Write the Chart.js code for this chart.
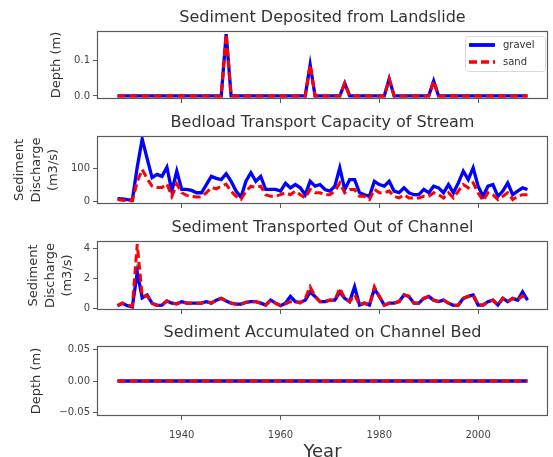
<!DOCTYPE html>
<html>
<head>
<meta charset="utf-8">
<script src="https://cdn.jsdelivr.net/npm/chart.js@4.4.1/dist/chart.umd.min.js"></script>
<style>
  body { margin: 0; background: #fff; width: 553px; height: 457px; overflow: hidden; position: relative; }
  canvas { position: absolute; left: 0; }
</style>
</head>
<body>
<canvas id="p1" width="553" height="103" style="top:5px"></canvas>
<canvas id="p2" width="553" height="103" style="top:110px"></canvas>
<canvas id="p3" width="553" height="104" style="top:215px"></canvas>
<canvas id="p4" width="553" height="138" style="top:320px"></canvas>
<script>
// years on the x axis
const years = [
  1927, 1928, 1929, 1930, 1931, 1932, 1933, 1934, 1935, 1936,
  1937, 1938, 1939, 1940, 1941, 1942, 1943, 1944, 1945, 1946,
  1947, 1948, 1949, 1950, 1951, 1952, 1953, 1954, 1955, 1956,
  1957, 1958, 1959, 1960, 1961, 1962, 1963, 1964, 1965, 1966,
  1967, 1968, 1969, 1970, 1971, 1972, 1973, 1974, 1975, 1976,
  1977, 1978, 1979, 1980, 1981, 1982, 1983, 1984, 1985, 1986,
  1987, 1988, 1989, 1990, 1991, 1992, 1993, 1994, 1995, 1996,
  1997, 1998, 1999, 2000, 2001, 2002, 2003, 2004, 2005, 2006,
  2007, 2008, 2009, 2010
];

// Sediment deposited from landslide (m)
const depositGravel = [
  0, 0, 0, 0, 0, 0, 0, 0, 0, 0,
  0, 0, 0, 0, 0, 0, 0, 0, 0, 0,
  0, 0, 0.175, 0, 0, 0, 0, 0, 0, 0,
  0, 0, 0, 0, 0, 0, 0, 0, 0, 0.088,
  0, 0, 0, 0, 0, 0, 0.036, 0, 0, 0,
  0, 0, 0, 0, 0, 0.048, 0, 0, 0, 0,
  0, 0, 0, 0, 0.042, 0, 0, 0, 0, 0,
  0, 0, 0, 0, 0, 0, 0, 0, 0, 0,
  0, 0, 0, 0
];
const depositSand = [
  0, 0, 0, 0, 0, 0, 0, 0, 0, 0,
  0, 0, 0, 0, 0, 0, 0, 0, 0, 0,
  0, 0, 0.175, 0, 0, 0, 0, 0, 0, 0,
  0, 0, 0, 0, 0, 0, 0, 0, 0, 0.088,
  0, 0, 0, 0, 0, 0, 0.036, 0, 0, 0,
  0, 0, 0, 0, 0, 0.048, 0, 0, 0, 0,
  0, 0, 0, 0, 0.042, 0, 0, 0, 0, 0,
  0, 0, 0, 0, 0, 0, 0, 0, 0, 0,
  0, 0, 0, 0
];

// Bedload transport capacity (m3/s)
const capacityGravel = [
  8, 7, 5, 4, 105, 190, 130, 72, 82, 76,
  104, 31, 92, 36, 36, 33, 26, 26, 51, 76,
  70, 66, 84, 61, 31, 12, 61, 87, 61, 76,
  36, 36, 36, 31, 55, 41, 51, 41, 20, 61,
  46, 51, 36, 31, 46, 102, 36, 66, 66, 26,
  20, 15, 61, 51, 46, 61, 31, 26, 41, 26,
  20, 20, 36, 26, 46, 41, 26, 51, 26, 56,
  92, 66, 102, 46, 15, 46, 51, 15, 31, 56,
  20, 31, 41, 36
];
const capacitySand = [
  5, 3, 2, 1, 60, 97, 69, 46, 42, 42,
  53, 15, 53, 26, 18, 15, 13, 13, 26, 42,
  38, 46, 52, 30, 15, 6, 30, 46, 42, 46,
  20, 15, 15, 20, 26, 20, 31, 20, 10, 36,
  26, 26, 20, 20, 31, 56, 26, 36, 36, 15,
  15, 5, 36, 26, 26, 31, 15, 10, 20, 10,
  10, 10, 15, 15, 26, 20, 10, 26, 10, 31,
  51, 41, 56, 26, 2, 26, 20, 5, 15, 26,
  5, 15, 20, 20
];

// Sediment transported out of channel (m3/s)
const outGravel = [
  0.18, 0.34, 0.18, 0.1, 2.4, 0.7, 0.9, 0.34, 0.2, 0.22,
  0.5, 0.35, 0.3, 0.45, 0.35, 0.35, 0.35, 0.35, 0.45, 0.35,
  0.55, 0.67, 0.5, 0.35, 0.28, 0.28, 0.4, 0.45, 0.45, 0.35,
  0.22, 0.55, 0.35, 0.18, 0.35, 0.8, 0.45, 0.4, 0.55, 1.1,
  0.8, 0.45, 0.45, 0.55, 0.55, 1.1, 0.67, 0.45, 1.45, 0.22,
  0.35, 0.22, 1.3, 0.8, 0.22, 0.35, 0.35, 0.45, 0.9, 0.8,
  0.35, 0.35, 0.67, 0.8, 0.55, 0.45, 0.55, 0.35, 0.2, 0.22,
  0.67, 0.8, 0.9, 0.22, 0.22, 0.45, 0.55, 0.22, 0.67, 0.45,
  0.67, 0.55, 1.1, 0.55
];
const outSand = [
  0.18, 0.36, 0.2, 0.15, 4.3, 0.8, 0.85, 0.34, 0.2, 0.22,
  0.5, 0.35, 0.3, 0.45, 0.35, 0.35, 0.35, 0.35, 0.45, 0.35,
  0.55, 0.67, 0.5, 0.35, 0.28, 0.28, 0.4, 0.45, 0.45, 0.35,
  0.22, 0.55, 0.35, 0.18, 0.3, 0.45, 0.45, 0.35, 0.67, 1.45,
  0.8, 0.45, 0.45, 0.55, 0.55, 1.35, 0.67, 0.45, 0.9, 0.22,
  0.35, 0.22, 1.45, 0.8, 0.22, 0.35, 0.35, 0.45, 0.9, 0.8,
  0.35, 0.35, 0.67, 0.8, 0.55, 0.45, 0.55, 0.35, 0.2, 0.22,
  0.67, 0.8, 0.9, 0.22, 0.22, 0.45, 0.55, 0.22, 0.67, 0.45,
  0.67, 0.55, 0.85, 0.55
];

// Sediment accumulated on channel bed (m)
const bedGravel = [
  0, 0, 0, 0, 0, 0, 0, 0, 0, 0,
  0, 0, 0, 0, 0, 0, 0, 0, 0, 0,
  0, 0, 0, 0, 0, 0, 0, 0, 0, 0,
  0, 0, 0, 0, 0, 0, 0, 0, 0, 0,
  0, 0, 0, 0, 0, 0, 0, 0, 0, 0,
  0, 0, 0, 0, 0, 0, 0, 0, 0, 0,
  0, 0, 0, 0, 0, 0, 0, 0, 0, 0,
  0, 0, 0, 0, 0, 0, 0, 0, 0, 0,
  0, 0, 0, 0
];
const bedSand = [
  0, 0, 0, 0, 0, 0, 0, 0, 0, 0,
  0, 0, 0, 0, 0, 0, 0, 0, 0, 0,
  0, 0, 0, 0, 0, 0, 0, 0, 0, 0,
  0, 0, 0, 0, 0, 0, 0, 0, 0, 0,
  0, 0, 0, 0, 0, 0, 0, 0, 0, 0,
  0, 0, 0, 0, 0, 0, 0, 0, 0, 0,
  0, 0, 0, 0, 0, 0, 0, 0, 0, 0,
  0, 0, 0, 0, 0, 0, 0, 0, 0, 0,
  0, 0, 0, 0
];

const seriesNames = ['gravel', 'sand'];
const xTicks = [1940, 1960, 1980, 2000];

const panelTitles = [
  'Sediment Deposited from Landslide',
  'Bedload Transport Capacity of Stream',
  'Sediment Transported Out of Channel',
  'Sediment Accumulated on Channel Bed'
];
const yTitles = [
  ['Depth (m)'],
  ['Sediment', 'Discharge', '(m3/s)'],
  ['Sediment', 'Discharge', '(m3/s)'],
  ['Depth (m)']
];
const yTicks = [[0, 0.1], [0, 100], [0, 2, 4], [-0.05, 0, 0.05]];
const yTickLabels = [['0.0', '0.1'], ['0', '100'], ['0', '2', '4'], ['\u22120.05', '0.00', '0.05']];

const FONT = 'DejaVu Sans';
const FRAME = '#5a5a5a';

// box around the axes, like matplotlib spines
const framePlugin = {
  id: 'frame',
  afterDatasetsDraw(chart) {
    const a = chart.chartArea;
    const ctx = chart.ctx;
    ctx.save();
    ctx.strokeStyle = FRAME;
    ctx.lineWidth = 1.2;
    ctx.strokeRect(Math.round(a.left) + 0.5, Math.round(a.top) + 0.5,
      Math.round(a.width) - 1, Math.round(a.height) - 1);
    ctx.restore();
  }
};

// matplotlib style legend in the upper right corner
const legendPlugin = {
  id: 'mplLegend',
  afterDraw(chart, args, opts) {
    if (!opts.show) return;
    const a = chart.chartArea;
    const ctx = chart.ctx;
    const w = 80, h = 35;
    const x0 = a.right - 3 - w, y0 = a.top + 5;
    ctx.save();
    ctx.fillStyle = 'rgba(255,255,255,0.85)';
    ctx.strokeStyle = '#d8d8d8';
    ctx.lineWidth = 1;
    ctx.beginPath();
    ctx.roundRect(x0 + 0.5, y0 + 0.5, w, h, 3);
    ctx.fill();
    ctx.stroke();
    chart.data.datasets.forEach((ds, i) => {
      const yy = y0 + 9 + i * 17;
      ctx.strokeStyle = ds.borderColor;
      ctx.lineWidth = ds.borderWidth + 0.5;
      ctx.setLineDash(ds.borderDash || []);
      ctx.beginPath();
      ctx.moveTo(x0 + 4, yy);
      ctx.lineTo(x0 + 30, yy);
      ctx.stroke();
      ctx.setLineDash([]);
      ctx.fillStyle = '#333';
      ctx.font = '10px "' + FONT + '"';
      ctx.textBaseline = 'middle';
      ctx.fillText(ds.label, x0 + 38, yy);
    });
    ctx.restore();
  }
};

function rangeOf(a, b) {
  const all = a.concat(b);
  const lo = Math.min(...all), hi = Math.max(...all);
  if (hi === lo) return [lo - 0.055, hi + 0.055];
  const m = (hi - lo) * 0.05;
  return [lo - m, hi + m];
}

function makePanel(id, idx, gravel, sand, opts) {
  const [ymin, ymax] = rangeOf(gravel, sand);
  const bottomAxis = opts.bottom;
  new Chart(document.getElementById(id), {
    type: 'line',
    data: {
      labels: years,
      datasets: [
        { label: seriesNames[0], data: gravel, borderColor: '#0000ff', borderWidth: 3.3,
          pointRadius: 0, tension: 0, fill: false, order: 1 },
        { label: seriesNames[1], data: sand, borderColor: '#ff0000', borderWidth: 3,
          borderDash: [8, 4], pointRadius: 0, tension: 0, fill: false, order: 0 }
      ]
    },
    options: {
      responsive: false,
      animation: false,
      devicePixelRatio: 1,
      layout: { padding: { left: 0, right: 5, top: 0, bottom: 0 } },
      plugins: {
        legend: { display: false },
        tooltip: { enabled: false },
        title: {
          display: true,
          text: panelTitles[idx],
          fullSize: false,
          color: '#333',
          font: { family: FONT, size: 16, weight: 'normal', lineHeight: '18px' },
          padding: { top: 4, bottom: 4 }
        },
        mplLegend: { show: !!opts.legend }
      },
      scales: {
        x: {
          type: 'linear',
          min: 1927 - 83 * 0.05,
          max: 2010 + 83 * 0.05,
          afterBuildTicks: s => { s.ticks = xTicks.map(v => ({ value: v })); },
          afterFit: s => { s.height = bottomAxis ? 42 : 8; },
          grid: { drawOnChartArea: false, drawTicks: true, tickLength: 4, color: FRAME },
          border: { display: false },
          ticks: {
            color: '#444',
            font: { family: FONT, size: 10 },
            padding: 9,
            maxRotation: 0,
            callback: v => bottomAxis ? String(v) : ''
          },
          title: {
            display: bottomAxis,
            text: 'Year',
            color: '#333',
            font: { family: FONT, size: 18, lineHeight: '10px' },
            padding: { top: 0, bottom: 1 }
          }
        },
        y: {
          min: ymin,
          max: ymax,
          afterBuildTicks: s => { s.ticks = yTicks[idx].map(v => ({ value: v })); },
          afterFit: s => { s.width = 97; },
          grid: { drawOnChartArea: false, drawTicks: true, tickLength: 4, color: FRAME },
          border: { display: false },
          ticks: {
            color: '#444',
            font: { family: FONT, size: 10 },
            padding: 3,
            callback: (v, i) => yTickLabels[idx][i]
          },
          title: {
            display: true,
            text: yTitles[idx],
            color: '#333',
            font: { family: FONT, size: 13, lineHeight: '17px' },
            padding: { top: opts.titlePad, bottom: 0 }
          }
        }
      }
    },
    plugins: [framePlugin, legendPlugin]
  });
}

makePanel('p1', 0, depositGravel, depositSand, { legend: true, titlePad: 48.5 });
makePanel('p2', 1, capacityGravel, capacitySand, { titlePad: 11.5 });
makePanel('p3', 2, outGravel, outSand, { titlePad: 25.5 });
makePanel('p4', 3, bedGravel, bedSand, { bottom: true, titlePad: 28.5 });
</script>
</body>
</html>
